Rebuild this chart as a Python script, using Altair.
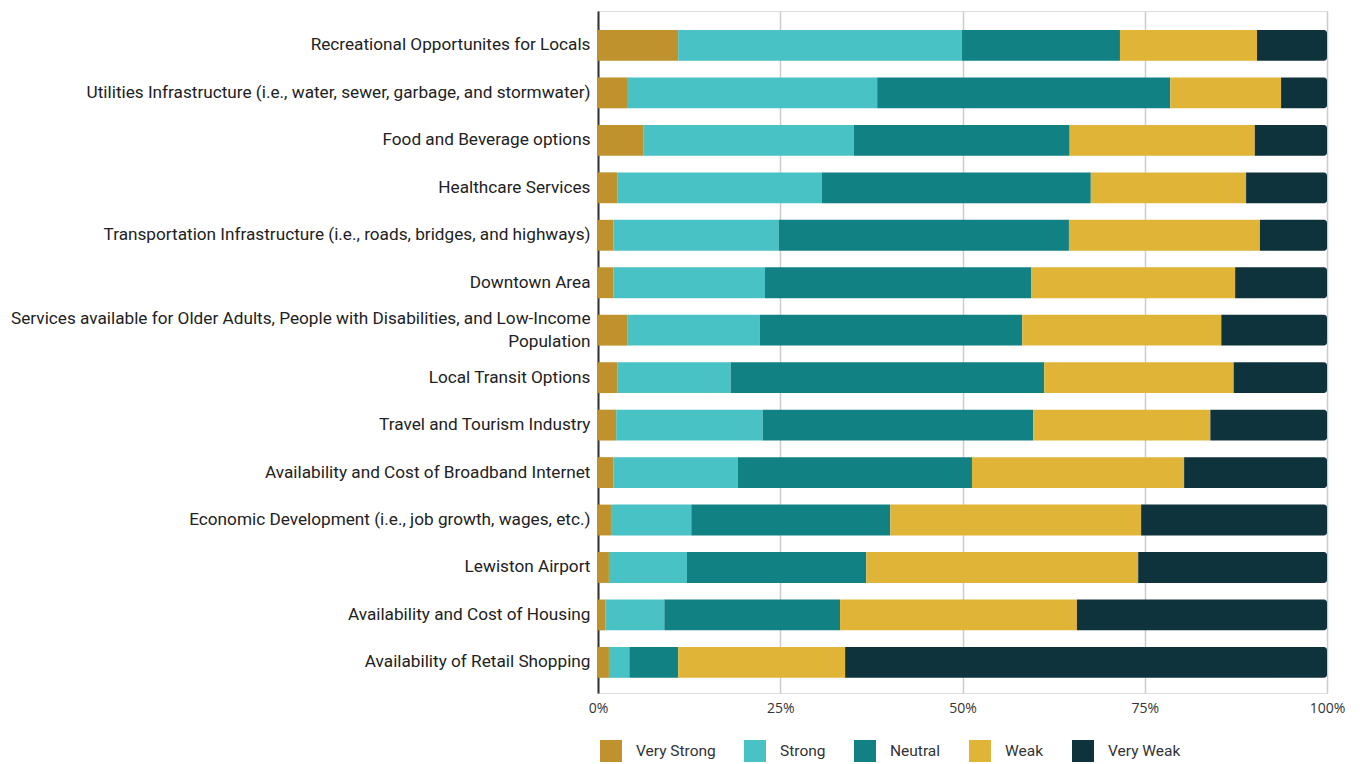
import altair as alt
import pandas as pd

categories = [
    "Recreational Opportunites for Locals",
    "Utilities Infrastructure (i.e., water, sewer, garbage, and stormwater)",
    "Food and Beverage options",
    "Healthcare Services",
    "Transportation Infrastructure (i.e., roads, bridges, and highways)",
    "Downtown Area",
    "Services available for Older Adults, People with Disabilities, and Low-Income Population",
    "Local Transit Options",
    "Travel and Tourism Industry",
    "Availability and Cost of Broadband Internet",
    "Economic Development (i.e., job growth, wages, etc.)",
    "Lewiston Airport",
    "Availability and Cost of Housing",
    "Availability of Retail Shopping",
]
ratings = ["Very Strong", "Strong", "Neutral", "Weak", "Very Weak"]
colors = ["#BF922E", "#49C2C6", "#128183", "#E0B537", "#0F333C"]

very_strong = [11.0, 4.1, 6.2, 2.7, 2.1, 2.1, 4.0, 2.7, 2.5, 2.1, 1.9, 1.5, 1.0, 1.5]
strong = [38.9, 34.2, 28.9, 28.0, 22.7, 20.8, 18.2, 15.5, 20.1, 17.1, 10.9, 10.7, 8.1, 2.8]
neutral = [21.7, 40.2, 29.6, 36.9, 39.8, 36.5, 36.0, 43.0, 37.1, 32.1, 27.3, 24.6, 24.1, 6.7]
weak = [18.8, 15.2, 25.4, 21.3, 26.2, 28.0, 27.3, 26.0, 24.3, 29.1, 34.4, 37.3, 32.5, 22.9]
very_weak = [9.6, 6.3, 9.9, 11.1, 9.2, 12.6, 14.5, 12.8, 16.0, 19.6, 25.5, 25.9, 34.3, 66.1]

series = [very_strong, strong, neutral, weak, very_weak]
rows = []
for ri, (r, vals) in enumerate(zip(ratings, series)):
    for c, v in zip(categories, vals):
        rows.append({"item": c, "rating": r, "order": ri, "value": v})
df = pd.DataFrame(rows)

long_label = categories[6]
label_test = f"datum.label == '{long_label}'"
label_expr = (
    f"{label_test} ? "
    "['Services available for Older Adults, People with Disabilities, and Low-Income', 'Population'] : datum.label"
)

base = alt.Chart(df).transform_stack(
    stack="value", as_=["x0", "x1"], groupby=["item"],
    sort=[alt.SortField("order", order="ascending")], offset="normalize",
)

x_enc = alt.X(
    "x0:Q",
    scale=alt.Scale(domain=[0, 1], nice=False),
    axis=alt.Axis(
        format="%", values=[0, 0.25, 0.5, 0.75, 1], title=None, domain=False,
        ticks=False, labelPadding=8, labelFontSize=14, labelColor="#333333",
        labelFont="Open Sans", labelFlush=False, grid=True,
        gridColor="#cccccc", gridWidth=1.5,
    ),
)
y_enc = alt.Y(
    "item:N", sort=categories, title=None,
    scale=alt.Scale(paddingInner=0.35, paddingOuter=0.36, align=0.556),
    axis=alt.Axis(
        labelExpr=label_expr, labelFontSize=17.2, labelFont="Roboto",
        labelColor="#222222", labelLimit=700, labelPadding=8, ticks=False,
        domainColor="#333333", domainWidth=2, grid=False, labelLineHeight=23,
        labelOffset={"condition": {"test": label_test, "value": -11.5}, "value": 0},
    ),
)
color_enc = alt.Color(
    "rating:N",
    scale=alt.Scale(domain=ratings, range=colors),
    legend=alt.Legend(
        title=None, orient="none", direction="horizontal", legendX=2, legendY=729,
        symbolType="square", symbolSize=484, symbolStrokeWidth=0,
        labelFontSize=15.5, labelFont="Roboto", labelColor="#333333",
        labelOffset=14, columnPadding=28, symbolOpacity=1,
    ),
)

bars = base.transform_filter(alt.datum.rating != "Very Weak").mark_bar().encode(
    x=x_enc, x2="x1:Q", y=y_enc, color=color_enc,
)
ends = base.transform_filter(alt.datum.rating == "Very Weak").mark_bar(
    cornerRadiusTopRight=3, cornerRadiusBottomRight=3
).encode(x=x_enc, x2="x1:Q", y=y_enc, color=color_enc)

chart = alt.layer(bars, ends).properties(
    width=729, height=682,
    autosize=alt.AutoSizeParams(type="none"),
    padding={"left": 598, "top": 11, "right": 34, "bottom": 71},
).configure_view(stroke=None).configure(background="white")

chart.save("out.html", embed_options={"renderer": "svg", "actions": False})
